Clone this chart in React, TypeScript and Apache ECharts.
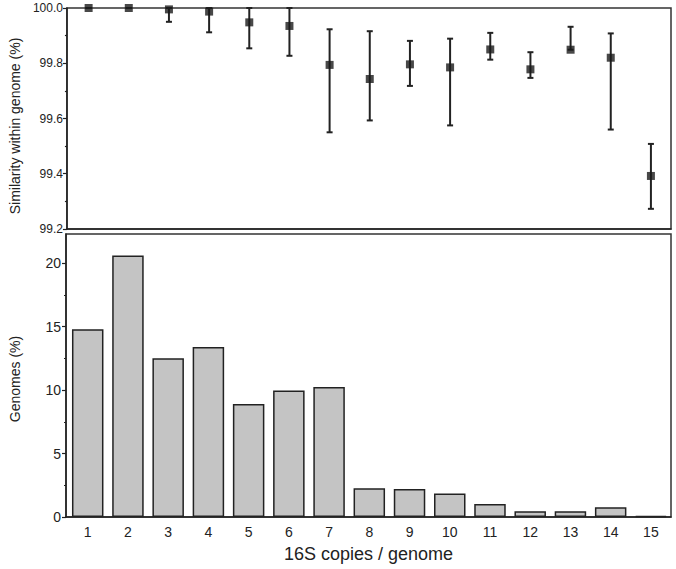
import React, { useEffect, useRef } from "react";
import * as echarts from "echarts";

const copies = [1, 2, 3, 4, 5, 6, 7, 8, 9, 10, 11, 12, 13, 14, 15];
const genomePct = [14.8, 20.6, 12.5, 13.4, 8.9, 9.97, 10.24, 2.26, 2.2, 1.86, 1.02, 0.45, 0.45, 0.76, 0.08];
const simMean = [100.0, 100.0, 99.995, 99.987, 99.948, 99.935, 99.794, 99.743, 99.796, 99.785, 99.85, 99.778, 99.849, 99.82, 99.392];
const simLow = [100.0, 100.0, 99.95, 99.912, 99.854, 99.827, 99.55, 99.593, 99.718, 99.575, 99.813, 99.747, 99.849, 99.56, 99.273];
const simHigh = [100.0, 100.0, 100.0, 100.0, 100.0, 100.0, 99.923, 99.916, 99.881, 99.889, 99.91, 99.84, 99.932, 99.908, 99.508];
const topTicks = [99.2, 99.4, 99.6, 99.8, 100.0];
const bottomMajorTicks = [0, 5, 10, 15, 20];
const bottomMinorTicks = [2.5, 7.5, 12.5, 17.5];

const INK = "#222";
const FONT = "Liberation Sans, Arial, sans-serif";

export default function App() {
  const ref = useRef<HTMLDivElement>(null);
  useEffect(() => {
    if (!ref.current) return;
    const chart = echarts.init(ref.current, undefined, { renderer: "svg" });
    const errData = copies.map((c, i) => [c, simLow[i], simHigh[i]]);
    const meanData = copies.map((c, i) => [c, simMean[i]]);
    const barData = copies.map((c, i) => [c, genomePct[i]]);
    chart.setOption({
      animation: false,
      textStyle: { fontFamily: FONT, color: INK },
      grid: [
        { left: 63, right: 5, top: 8, height: 221, show: true, borderColor: "#333", borderWidth: 1.5, backgroundColor: "transparent" },
        { left: 63, right: 5, top: 234, height: 283, show: true, borderColor: "#333", borderWidth: 1.5, backgroundColor: "transparent" },
      ],
      xAxis: [
        {
          type: "value", gridIndex: 0, min: 0.46, max: 15.5,
          axisLine: { show: true, lineStyle: { color: INK, width: 1.5 } },
          axisTick: { show: false }, axisLabel: { show: false }, splitLine: { show: false },
        },
        {
          type: "value", gridIndex: 1, min: 0.46, max: 15.5,
          axisLine: { show: true, onZero: false, lineStyle: { color: INK, width: 1.5 } },
          axisTick: { show: false },
          axisLabel: { customValues: copies, fontSize: 14, color: INK, margin: 8, fontFamily: FONT },
          splitLine: { show: false },
          name: "16S copies / genome", nameLocation: "middle", nameGap: 28,
          nameTextStyle: { fontSize: 18, color: INK, fontFamily: FONT },
        },
      ],
      yAxis: [
        {
          type: "value", gridIndex: 0, min: 99.2, max: 100, interval: 0.2,
          axisLine: { show: true, lineStyle: { color: INK, width: 1.5 } },
          axisTick: { show: true, length: 4, lineStyle: { color: INK, width: 1.2 } },
          minorTick: { show: true, splitNumber: 2, length: 2, lineStyle: { color: INK, width: 1.2 } },
          axisLabel: { customValues: topTicks, fontSize: 12, color: INK, margin: 4, fontFamily: FONT, formatter: (v: number) => v.toFixed(1) },
          splitLine: { show: false },
          name: "Similarity within genome (%)", nameLocation: "middle", nameGap: 38,
          nameTextStyle: { fontSize: 14, color: INK, fontFamily: FONT, padding: [0, 15, 0, 0] },
        },
        {
          type: "value", gridIndex: 1, min: 0, max: 22.3,
          axisLine: { show: true, lineStyle: { color: INK, width: 1.5 } },
          axisTick: { show: true, customValues: bottomMajorTicks, length: 4, lineStyle: { color: INK, width: 1.2 } },
          axisLabel: { customValues: bottomMajorTicks, fontSize: 14, color: INK, margin: 5, fontFamily: FONT },
          splitLine: { show: false },
          name: "Genomes (%)", nameLocation: "middle", nameGap: 44,
          nameTextStyle: { fontSize: 14, color: INK, fontFamily: FONT, padding: [0, 7, 0, 0] },
        },
        {
          type: "value", gridIndex: 1, min: 0, max: 22.3, position: "left",
          axisLine: { show: false },
          axisTick: { show: true, customValues: bottomMinorTicks, length: 2, lineStyle: { color: INK, width: 1.2 } },
          axisLabel: { show: false }, splitLine: { show: false },
        },
      ],
      series: [
        {
          type: "custom", xAxisIndex: 0, yAxisIndex: 0, data: errData, z: 3,
          renderItem: (params: any, api: any) => {
            const x = api.value(0), lo = api.value(1), hi = api.value(2);
            const pLo = api.coord([x, lo]);
            const pHi = api.coord([x, hi]);
            const hw = 3;
            const style = { stroke: INK, lineWidth: 2 };
            return {
              type: "group",
              children: [
                { type: "line", shape: { x1: pLo[0], y1: pLo[1], x2: pHi[0], y2: pHi[1] }, style },
                { type: "line", shape: { x1: pLo[0] - hw, y1: pLo[1], x2: pLo[0] + hw, y2: pLo[1] }, style },
                { type: "line", shape: { x1: pHi[0] - hw, y1: pHi[1], x2: pHi[0] + hw, y2: pHi[1] }, style },
              ],
            };
          },
        },
        {
          type: "scatter", xAxisIndex: 0, yAxisIndex: 0, data: meanData, symbol: "rect", symbolSize: 8, z: 4,
          itemStyle: { color: "#1a1a1a" },
        },
        {
          type: "bar", xAxisIndex: 1, yAxisIndex: 1, data: barData, barWidth: 31.5,
          itemStyle: { color: "#c4c4c4", borderColor: INK, borderWidth: 1.5 },
        },
      ],
    });
    return () => chart.dispose();
  }, []);
  return <div ref={ref} style={{ width: 676, height: 569, position: "absolute", left: 0, top: 0, background: "#fff" }} />;
}
